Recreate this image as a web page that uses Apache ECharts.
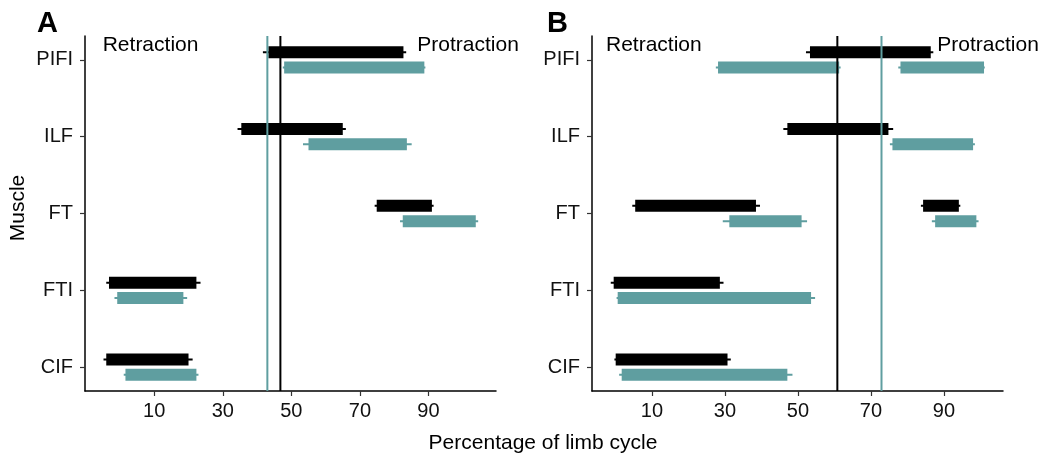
<!DOCTYPE html>
<html>
<head>
<meta charset="utf-8">
<script src="https://cdn.jsdelivr.net/npm/echarts@6/dist/echarts.min.js"></script>
<style>html,body{margin:0;padding:0;background:#fff;}#c{width:1040px;height:454px;}</style>
</head>
<body>
<div id="c"></div>
<script>
// ---- data ----
const muscles = ['CIF', 'FTI', 'FT', 'ILF', 'PIFI'];
const xTicks = [10, 30, 50, 70, 90];
// [muscle, whiskerLow, start, end, whiskerHigh]
const A_black = [
  ['PIFI', 41.7, 43.3, 82.7, 83.5],
  ['ILF', 34.3, 35.4, 65.0, 65.9],
  ['FT', 74.3, 74.9, 91.0, 91.5],
  ['FTI', -4.0, -3.2, 22.3, 23.5],
  ['CIF', -4.8, -4.0, 20.0, 21.2]
];
const A_teal = [
  ['PIFI', 47.5, 47.9, 88.8, 89.1],
  ['ILF', 53.4, 55.0, 83.7, 85.1],
  ['FT', 81.7, 82.5, 103.8, 104.5],
  ['FTI', -1.6, -0.8, 18.5, 19.6],
  ['CIF', 1.1, 1.6, 22.3, 22.9]
];
const B_black = [
  ['PIFI', 52.2, 53.3, 86.4, 87.1],
  ['ILF', 46.0, 47.1, 74.8, 76.1],
  ['FT', 4.6, 5.4, 38.5, 39.6],
  ['FT', 83.7, 84.3, 94.1, 94.5],
  ['FTI', -1.3, -0.5, 28.6, 29.6],
  ['CIF', -0.3, 0.05, 30.7, 31.6]
];
const B_teal = [
  ['PIFI', 27.5, 28.1, 61.3, 61.7],
  ['PIFI', 77.5, 78.1, 101.0, 101.2],
  ['ILF', 75.2, 75.9, 98.0, 98.5],
  ['FT', 29.4, 31.2, 51.0, 52.5],
  ['FT', 86.7, 87.6, 98.9, 99.5],
  ['FTI', 0.3, 0.6, 53.6, 54.7],
  ['CIF', 1.0, 1.7, 47.1, 48.5]
];
// vertical reference lines [black, teal]
const A_lines = [46.8, 43.0];
const B_lines = [60.8, 72.9];

const BLACK = '#000000';
const TEAL = '#5F9EA0';
const FONT = 'Liberation Sans, Arial, Helvetica, sans-serif';
const TXT = '#111111';

function toData(arr) {
  return arr.map(r => [r[1], r[2], r[3], r[4], muscles.indexOf(r[0]) + 1]);
}

function barSeries(arr, color, off, idx) {
  return {
    type: 'custom',
    xAxisIndex: idx, yAxisIndex: idx,
    z: 2,
    encode: { x: [0, 1, 2, 3], y: 4 },
    data: toData(arr),
    renderItem: function (params, api) {
      const y = api.value(4) + off;
      const pl = api.coord([api.value(0), y]);
      const p1 = api.coord([api.value(1), y]);
      const p2 = api.coord([api.value(2), y]);
      const ph = api.coord([api.value(3), y]);
      return {
        type: 'group',
        children: [
          { type: 'line', shape: { x1: pl[0], y1: pl[1], x2: ph[0], y2: ph[1] },
            style: { stroke: color, lineWidth: 2 } },
          { type: 'rect', shape: { x: p1[0], y: p1[1] - 6, width: p2[0] - p1[0], height: 12 },
            style: { fill: color } }
        ]
      };
    }
  };
}

function vlineSeries(vals, idx) {
  return {
    type: 'custom',
    xAxisIndex: idx, yAxisIndex: idx,
    z: 5,
    encode: { x: 0 },
    data: vals.map((v, i) => [v, i]),
    renderItem: function (params, api) {
      const cs = params.coordSys;
      const p = api.coord([api.value(0), 3]);
      const color = api.value(1) === 0 ? BLACK : TEAL;
      return { type: 'line', shape: { x1: p[0], y1: cs.y, x2: p[0], y2: cs.y + cs.height },
        style: { stroke: color, lineWidth: 2 } };
    }
  };
}

function xAxisCfg(idx, min, max) {
  return {
    type: 'value', gridIndex: idx, min: min, max: max,
    splitLine: { show: false },
    axisLine: { onZero: false, lineStyle: { color: '#000', width: 1.5 } },
    axisTick: { customValues: xTicks, length: 5, lineStyle: { color: '#333', width: 1.2 } },
    axisLabel: { customValues: xTicks, fontSize: 20, color: TXT, fontFamily: FONT, margin: 10 }
  };
}
function yAxisCfg(idx) {
  const vals = muscles.map((m, i) => i + 1);
  return {
    type: 'value', gridIndex: idx, min: 0.69, max: 5.31,
    splitLine: { show: false },
    axisLine: { onZero: false, lineStyle: { color: '#000', width: 1.5 } },
    axisTick: { customValues: vals, length: 5, lineStyle: { color: '#333', width: 1.2 } },
    axisLabel: { customValues: vals, fontSize: 20, color: TXT, fontFamily: FONT, margin: 12,
      padding: [4, 0, 0, 0],
      formatter: v => muscles[Math.round(v) - 1] }
  };
}

const chart = echarts.init(document.getElementById('c'), null, { renderer: 'canvas' });
chart.setOption({
  backgroundColor: '#ffffff',
  animation: false,
  grid: [
    { left: 85, top: 36, width: 411, height: 355 },
    { left: 592, top: 36, width: 411, height: 355 }
  ],
  xAxis: [xAxisCfg(0, -10.2, 109.7), xAxisCfg(1, -6.44, 106.2)],
  yAxis: [yAxisCfg(0), yAxisCfg(1)],
  series: [
    barSeries(A_black, BLACK, 0.1, 0),
    barSeries(A_teal, TEAL, -0.1, 0),
    barSeries(B_black, BLACK, 0.1, 1),
    barSeries(B_teal, TEAL, -0.1, 1),
    vlineSeries(A_lines, 0),
    vlineSeries(B_lines, 1)
  ],
  graphic: [
    { type: 'text', x: 37, y: 24, style: { text: 'A', font: 'bold 29px ' + FONT, fill: '#000', textVerticalAlign: 'middle' } },
    { type: 'text', x: 547, y: 24, style: { text: 'B', font: 'bold 29px ' + FONT, fill: '#000', textVerticalAlign: 'middle' } },
    { type: 'text', x: 102.7, y: 45, style: { text: 'Retraction', font: '21px ' + FONT, fill: '#000', textVerticalAlign: 'middle' } },
    { type: 'text', x: 417.3, y: 45, style: { text: 'Protraction', font: '21px ' + FONT, fill: '#000', textVerticalAlign: 'middle' } },
    { type: 'text', x: 606, y: 45, style: { text: 'Retraction', font: '21px ' + FONT, fill: '#000', textVerticalAlign: 'middle' } },
    { type: 'text', x: 937.3, y: 45, style: { text: 'Protraction', font: '21px ' + FONT, fill: '#000', textVerticalAlign: 'middle' } },
    { type: 'text', x: 18, y: 208, rotation: Math.PI / 2, style: { text: 'Muscle', font: '21px ' + FONT, fill: '#000', textAlign: 'center', textVerticalAlign: 'middle' } },
    { type: 'text', x: 543, y: 443, style: { text: 'Percentage of limb cycle', font: '21px ' + FONT, fill: '#000', textAlign: 'center', textVerticalAlign: 'middle' } }
  ]
});
</script>
</body>
</html>
